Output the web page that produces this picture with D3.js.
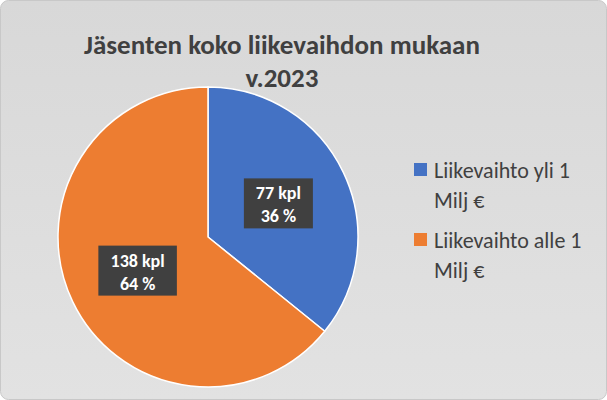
<!DOCTYPE html>
<html><head><meta charset="utf-8">
<script src="https://cdn.jsdelivr.net/npm/d3@7"></script>
<style>body{margin:0;background:#fff}</style>
</head><body><div id="chart"></div>
<script>
var categories = ['Liikevaihto yli 1 Milj €', 'Liikevaihto alle 1 Milj €'];
var legendLines = [['Liikevaihto yli 1', 'Milj €'], ['Liikevaihto alle 1', 'Milj €']];
var counts = [77, 138];
var percents = [36, 64];
var colors = ['#4472C4', '#ED7D31'];

var w = 607, h = 400;
var svg = d3.select('#chart').append('svg').attr('width', w).attr('height', h)
    .style('font-family', 'Calibri, Carlito, "Open Sans", sans-serif');

var grad = svg.append('defs').append('linearGradient').attr('id', 'bg')
    .attr('x1', 0).attr('y1', 0).attr('x2', 0).attr('y2', 1);
grad.append('stop').attr('offset', '0%').attr('stop-color', '#d8d8d8');
grad.append('stop').attr('offset', '100%').attr('stop-color', '#e2e2e2');
svg.append('rect').attr('x', 0.5).attr('y', 0.5).attr('width', w - 1).attr('height', h - 1)
    .attr('rx', 8).attr('fill', 'url(#bg)').attr('stroke', '#c8c8c8');

svg.append('text').attr('x', 282).attr('y', 54).attr('text-anchor', 'middle')
    .attr('font-size', 27).attr('font-weight', 'bold').attr('fill', '#404040')
    .text('Jäsenten koko liikevaihdon mukaan');
svg.append('text').attr('x', 282).attr('y', 87).attr('text-anchor', 'middle')
    .attr('font-size', 27).attr('font-weight', 'bold').attr('fill', '#404040')
    .text('v.2023');

var cx = 208, cy = 237, r = 150;
var pie = d3.pie().sort(null).value(function(d) { return d; });
var arc = d3.arc().innerRadius(0).outerRadius(r);
var g = svg.append('g').attr('transform', 'translate(' + cx + ',' + cy + ')');
var arcs = pie(counts);
g.selectAll('path').data(arcs).enter().append('path')
    .attr('d', arc).attr('fill', function(d, i) { return colors[i]; })
    .attr('stroke', '#fff').attr('stroke-width', 1.5);

var labelArc = d3.arc().innerRadius(r * 0.52).outerRadius(r * 0.52);
arcs.forEach(function(d, i) {
    var c = labelArc.centroid(d);
    var lg = g.append('g').attr('transform', 'translate(' + c[0] + ',' + c[1] + ')');
    var t1 = counts[i] + ' kpl', t2 = percents[i] + ' %';
    var bw = t1.length * 9.5 + 12;
    lg.append('rect').attr('x', -bw / 2).attr('y', -25).attr('width', bw).attr('height', 50)
        .attr('fill', '#404040');
    lg.append('text').attr('y', -4).attr('text-anchor', 'middle').attr('fill', '#fff')
        .attr('font-size', 18).attr('font-weight', 'bold').text(t1);
    lg.append('text').attr('y', 19).attr('text-anchor', 'middle').attr('fill', '#fff')
        .attr('font-size', 18).attr('font-weight', 'bold').text(t2);
});

var leg = svg.append('g').selectAll('g').data(categories).enter().append('g')
    .attr('transform', function(d, i) { return 'translate(414,' + (163 + i * 70) + ')'; });
leg.append('rect').attr('width', 13).attr('height', 13).attr('fill', function(d, i) { return colors[i]; });
leg.each(function(d, i) {
    var t = d3.select(this).append('text').attr('x', 20).attr('y', 15)
        .attr('font-size', 22).attr('fill', '#404040');
    legendLines[i].forEach(function(line, j) {
        t.append('tspan').attr('x', 20).attr('dy', j ? 30 : 0).text(line);
    });
});
</script></body></html>
